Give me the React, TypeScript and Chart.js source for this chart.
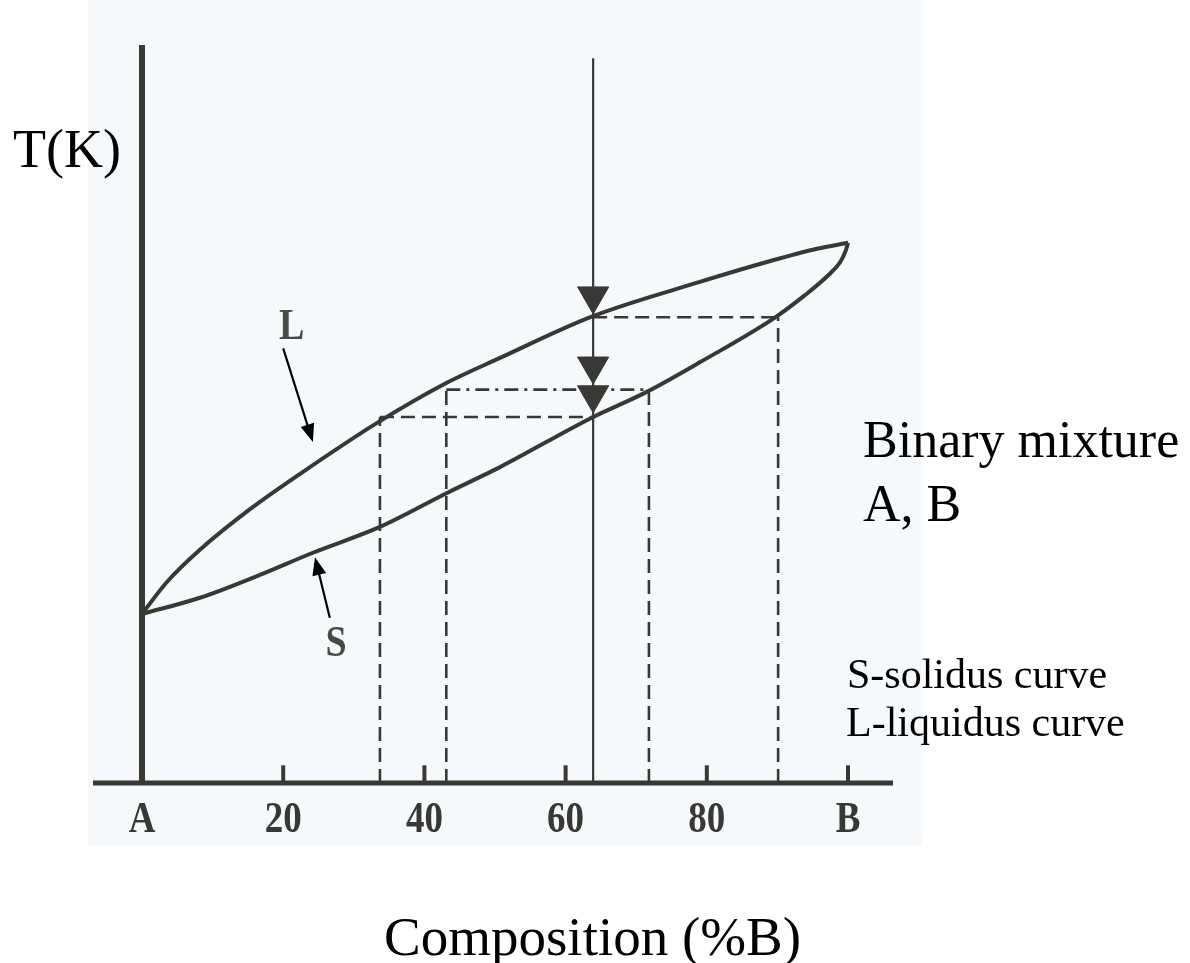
import React, { useEffect, useRef } from "react";
import { Chart, registerables } from "chart.js";

Chart.register(...registerables);

// ---- data (composition %B on x, temperature in arbitrary units on y) ----
const tickValues = [0, 20, 40, 60, 80, 100];
const tickLabels = ["A", "20", "40", "60", "80", "B"];

const liquidusX = [0, 3.5, 8.2, 15.3, 22.4, 33.3, 43.1, 50.7, 63.7, 79.0, 88.5, 95.6, 100];
const liquidusY = [22.9, 27.2, 31.6, 37.1, 41.9, 48.8, 54.2, 57.6, 63.2, 67.9, 70.6, 72.4, 73.2];

const solidusX = [0, 8.2, 16.7, 24.2, 33.7, 43.2, 50.7, 63.7, 71.5, 79.0, 89.7, 93.9, 97.2, 98.9, 99.7, 100];
const solidusY = [22.9, 25.1, 28.2, 31.2, 34.7, 39.3, 42.8, 49.5, 53.0, 57.0, 63.1, 66.1, 68.8, 70.6, 72.2, 73.2];

const isoplethX = 63.9;
const isoplethTop = 98.2;
const axisTop = 100;
const axisLeft = -6.94;
const axisRight = 106.37;
const tickHeight = 2.4;

// horizontal tie lines
const tieStartX = [33.7, 63.9];
const tieEndX = [63.9, 90.1];
const tieY = [49.6, 63.1];
// dash-dot tie line
const dotTieStartX = [43.1];
const dotTieEndX = [71.8];
const dotTieY = [53.3];
// vertical drop lines
const dropX = [33.7, 43.1, 71.8, 90.1];
const dropTopY = [49.6, 54.0, 53.0, 63.1];

// cooling arrows on the isopleth (triangle centres)
const arrowHeadY = [66.0, 56.5, 52.6];

// label arrows
const labelNames = ["L", "S"];
const labelX = [21.2, 27.5];
const labelY = [61.7, 18.7];
const arrowTailX = [20.0, 26.6];
const arrowTailY = [58.9, 22.4];
const arrowTipX = [24.2, 24.5];
const arrowTipY = [46.2, 30.6];

const INK = "#383834";

const pts = (xs: number[], ys: number[]) => xs.map((x, i) => ({ x, y: ys[i] }));

const overlayPlugin = {
  id: "overlay",
  beforeDraw(chart: any) {
    const ctx = chart.ctx;
    ctx.save();
    ctx.fillStyle = "#ffffff";
    ctx.fillRect(0, 0, chart.width, chart.height);
    ctx.fillStyle = "#f6f9fb";
    ctx.fillRect(88, 0, 834, 845);
    ctx.restore();
  },
  afterDraw(chart: any) {
    const ctx = chart.ctx;
    const xs = chart.scales.x;
    const ys = chart.scales.y;
    ctx.save();
    // tick labels (bold, tall serif)
    ctx.fillStyle = INK;
    ctx.textAlign = "center";
    ctx.textBaseline = "alphabetic";
    ctx.font = "bold 37px 'Liberation Serif', serif";
    tickValues.forEach((v, i) => {
      const px = xs.getPixelForValue(v);
      ctx.save();
      ctx.translate(px, ys.getPixelForValue(0) + 49);
      ctx.scale(1, 1.2);
      ctx.fillText(tickLabels[i], 0, 0);
      ctx.restore();
    });
    // label arrows
    labelNames.forEach((name, i) => {
      const tx = xs.getPixelForValue(arrowTailX[i]);
      const ty = ys.getPixelForValue(arrowTailY[i]);
      const hx = xs.getPixelForValue(arrowTipX[i]);
      const hy = ys.getPixelForValue(arrowTipY[i]);
      const ang = Math.atan2(hy - ty, hx - tx);
      const len = 18;
      const hw = 7;
      ctx.strokeStyle = "#000";
      ctx.fillStyle = "#000";
      ctx.lineWidth = 2.2;
      ctx.beginPath();
      ctx.moveTo(tx, ty);
      ctx.lineTo(hx - Math.cos(ang) * len * 0.8, hy - Math.sin(ang) * len * 0.8);
      ctx.stroke();
      ctx.beginPath();
      ctx.moveTo(hx, hy);
      ctx.lineTo(hx - Math.cos(ang) * len - Math.sin(ang) * hw, hy - Math.sin(ang) * len + Math.cos(ang) * hw);
      ctx.lineTo(hx - Math.cos(ang) * len + Math.sin(ang) * hw, hy - Math.sin(ang) * len - Math.cos(ang) * hw);
      ctx.closePath();
      ctx.fill();
      // label text
      ctx.fillStyle = "#4a4a45";
      ctx.font = "bold 38px 'Liberation Serif', serif";
      ctx.textAlign = "center";
      ctx.textBaseline = "middle";
      ctx.save();
      ctx.translate(xs.getPixelForValue(labelX[i]), ys.getPixelForValue(labelY[i]));
      ctx.scale(1, 1.15);
      ctx.fillText(name, 0, 0);
      ctx.restore();
    });
    // free text
    ctx.fillStyle = "#000";
    ctx.textAlign = "left";
    ctx.textBaseline = "alphabetic";
    ctx.font = "54px 'Liberation Serif', serif";
    ctx.fillText("T(K)", 13, 167);
    ctx.font = "52px 'Liberation Serif', serif";
    ctx.fillText("Binary mixture", 863, 457);
    ctx.fillText("A, B", 863, 521);
    ctx.font = "42px 'Liberation Serif', serif";
    ctx.fillText("S-solidus curve", 847, 688);
    ctx.fillText("L-liquidus curve", 846, 736);
    ctx.font = "55px 'Liberation Serif', serif";
    ctx.fillText("Composition (%B)", 384, 955);
    ctx.restore();
  },
};

export default function App() {
  const ref = useRef<HTMLCanvasElement | null>(null);
  useEffect(() => {
    if (!ref.current) return;
    const lineDs = (data: any[], opts: any = {}) => ({
      data,
      showLine: true,
      pointRadius: 0,
      borderColor: INK,
      borderWidth: 2.5,
      clip: false,
      ...opts,
    });
    const datasets: any[] = [];
    datasets.push(lineDs(pts(liquidusX, liquidusY), { borderWidth: 4, cubicInterpolationMode: "monotone" }));
    datasets.push(lineDs(pts(solidusX, solidusY), { borderWidth: 4, cubicInterpolationMode: "monotone" }));
    // axes
    datasets.push(lineDs([{ x: 0, y: 0 }, { x: 0, y: axisTop }], { borderWidth: 6 }));
    datasets.push(lineDs([{ x: axisLeft, y: 0 }, { x: axisRight, y: 0 }], { borderWidth: 5 }));
    tickValues.forEach((v) => datasets.push(lineDs([{ x: v, y: 0 }, { x: v, y: tickHeight }], { borderWidth: 4 })));
    // isopleth
    datasets.push(lineDs([{ x: isoplethX, y: 0 }, { x: isoplethX, y: isoplethTop }], { borderWidth: 2.2 }));
    // tie lines
    tieY.forEach((y, i) =>
      datasets.push(lineDs([{ x: tieStartX[i], y }, { x: tieEndX[i], y }], { borderDash: [14, 7], borderWidth: 2.6 }))
    );
    dotTieY.forEach((y, i) =>
      datasets.push(lineDs([{ x: dotTieStartX[i], y }, { x: dotTieEndX[i], y }], { borderDash: [14, 6, 3, 6], borderWidth: 2.6 }))
    );
    dropX.forEach((x, i) =>
      datasets.push(lineDs([{ x, y: 0 }, { x, y: dropTopY[i] }], { borderDash: [14, 7], borderWidth: 2.6 }))
    );
    // arrow heads on isopleth
    datasets.push({
      data: arrowHeadY.map((y) => ({ x: isoplethX, y })),
      showLine: false,
      pointStyle: "triangle",
      rotation: 180,
      pointRadius: 18,
      pointBackgroundColor: INK,
      pointBorderColor: INK,
      pointBorderWidth: 1,
      clip: false,
    });

    const chart = new Chart(ref.current, {
      type: "scatter",
      data: { datasets },
      options: {
        responsive: false,
        animation: false,
        devicePixelRatio: 1,
        events: [],
        layout: { padding: { left: 93, right: 297, top: 45, bottom: 180 } },
        scales: {
          x: { type: "linear", min: axisLeft, max: axisRight, display: false },
          y: { type: "linear", min: 0, max: 100, display: false },
        },
        plugins: { legend: { display: false }, tooltip: { enabled: false } },
      },
      plugins: [overlayPlugin],
    } as any);
    return () => chart.destroy();
  }, []);
  return (
    <div style={{ position: "fixed", left: 0, top: 0, width: 1190, height: 963, background: "#fff" }}>
      <canvas ref={ref} width={1190} height={963} style={{ display: "block", width: 1190, height: 963 }} />
    </div>
  );
}
